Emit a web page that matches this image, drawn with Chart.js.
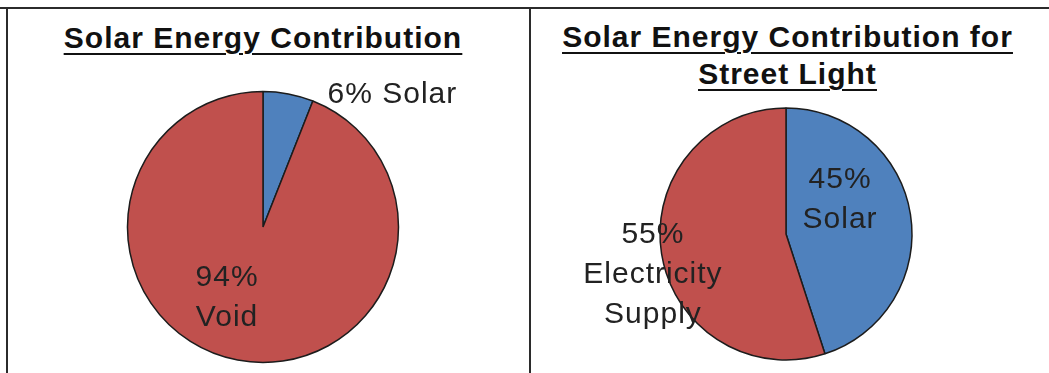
<!DOCTYPE html>
<html><head><meta charset="utf-8">
<script src="https://cdn.jsdelivr.net/npm/chart.js@4.4.1/dist/chart.umd.min.js"></script>
<style>
html,body{margin:0;padding:0;background:#fff;width:1049px;height:373px;overflow:hidden;}
.frame{position:absolute;background:#2b2b2b;}
.title{position:absolute;font-family:"Liberation Sans",Arial,sans-serif;font-weight:bold;font-size:30px;line-height:37px;color:#111;text-align:center;letter-spacing:1px;text-decoration:underline;text-decoration-thickness:2px;text-underline-offset:5px;white-space:nowrap;}
.title div{text-decoration:underline;text-decoration-thickness:2px;text-underline-offset:5px;}
.box{position:absolute;}
</style></head>
<body>
<div class="frame" style="left:0;top:7px;width:1049px;height:2px"></div>
<div class="frame" style="left:6px;top:7px;width:2px;height:366px"></div>
<div class="frame" style="left:529px;top:7px;width:2px;height:366px"></div>
<div id="t1" class="title" style="left:8px;width:510px;top:19px"></div>
<div id="t2" class="title" style="left:531px;width:513px;top:18px"></div>
<div class="box" style="left:0;top:0;width:530px;height:373px"><canvas id="c1"></canvas></div>
<div class="box" style="left:530px;top:0;width:519px;height:373px"><canvas id="c2"></canvas></div>
<script>
// ---- data ----
const leftTitle = ['Solar Energy Contribution'];
const leftCategories = ['Solar', 'Void'];
const leftValues = [6, 94];

const rightTitle = ['Solar Energy Contribution for', 'Street Light'];
const rightCategories = ['Solar', 'Electricity Supply'];
const rightValues = [45, 55];

const sliceColors = ['#4F81BD', '#C0504D'];

// ---- titles ----
function setTitle(id, lines) {
  const el = document.getElementById(id);
  lines.forEach(t => { const d = document.createElement('div'); d.textContent = t; el.appendChild(d); });
}
setTitle('t1', leftTitle);
setTitle('t2', rightTitle);

// ---- label plugin ----
const pieLabels = {
  id: 'pieLabels',
  afterDatasetsDraw(chart, args, opts) {
    const ctx = chart.ctx;
    const meta = chart.getDatasetMeta(0);
    const ds = chart.data.datasets[0];
    meta.data.forEach((arc, i) => {
      const p = opts.placements[i];
      const {x, y, outerRadius} = arc.getProps(['x', 'y', 'outerRadius'], true);
      const a = p.angle * Math.PI / 180;
      const cx = x + Math.cos(a) * outerRadius * p.dist;
      const cy = y + Math.sin(a) * outerRadius * p.dist;
      const pct = ds.data[i] + '%';
      const name = chart.data.labels[i];
      const lines = p.inline ? [pct + ' ' + name] : [pct, ...name.split(' ')];
      ctx.save();
      ctx.font = '30px "Liberation Sans", Arial, sans-serif';
      try { ctx.letterSpacing = '1px'; } catch (e) {}
      ctx.fillStyle = opts.color;
      ctx.textAlign = 'center';
      ctx.textBaseline = 'alphabetic';
      const lh = opts.lineHeight;
      const top = cy - (lines.length - 1) * lh / 2;
      lines.forEach((t, k) => ctx.fillText(t, cx, top + k * lh + opts.capHalf));
      ctx.restore();
    });
  }
};

function makePie(id, cats, vals, radius, padding, placements) {
  return new Chart(document.getElementById(id), {
    type: 'pie',
    data: {
      labels: cats,
      datasets: [{
        data: vals,
        backgroundColor: sliceColors,
        borderColor: '#1c1c1c',
        borderWidth: 1.5,
        radius: radius
      }]
    },
    options: {
      responsive: true,
      maintainAspectRatio: false,
      animation: false,
      layout: { padding: padding },
      plugins: {
        legend: { display: false },
        tooltip: { enabled: false },
        pieLabels: { placements: placements, color: '#222', lineHeight: 40, capHalf: 10.7 }
      }
    },
    plugins: [pieLabels]
  });
}

makePie('c1', leftCategories, leftValues, 135.5,
  { left: 0, right: 4, top: 81, bottom: 0 },
  [ { angle: -46.2, dist: 1.38, inline: true }, { angle: 117.7, dist: 0.571 } ]);

makePie('c2', rightCategories, rightValues, 126,
  { left: 0, right: 7, top: 95, bottom: 0 },
  [ { angle: -34.4, dist: 0.52 }, { angle: 164.1, dist: 1.098 } ]);
</script>
</body></html>
